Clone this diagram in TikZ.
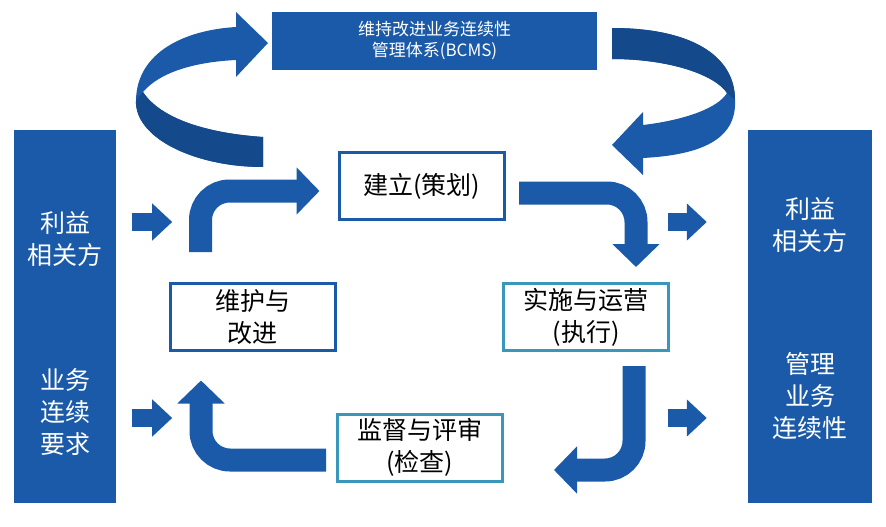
\documentclass[tikz,border=0pt]{standalone}
\usepackage{fontspec}
\setmainfont{Noto Sans CJK SC}
\usetikzlibrary{arrows.meta,positioning,calc}
\definecolor{bcblue}{HTML}{1A5AA8}
\definecolor{bcdark}{HTML}{144A8B}
\definecolor{bcteal}{HTML}{3A96BB}
\newcommand{\stagefont}{\fontsize{25}{32}\selectfont}

\begin{document}
\begin{tikzpicture}[x=1pt,y=-1pt,
  bar/.style={fill=bcblue,minimum width=#1,minimum height=373pt,inner sep=0pt},
  bartext/.style={text=white,align=center,font=\stagefont},
  stagebox/.style={draw=#1,line width=3pt,fill=white,minimum width=165pt,minimum height=67pt,
                   inner sep=0pt,align=center,font=\stagefont},
  bendarrow/.style={draw=bcblue,line width=23pt,rounded corners=29pt,
                    -{Triangle[width=46pt,length=23pt]}},
  smallarrow/.style={draw=bcblue,line width=18pt,-{Triangle[width=36pt,length=20pt]}}]
  \useasboundingbox (0,0) rectangle (886,527);

  % cycle round the management system
  \fill[bcblue] (236,27) .. controls (185,30) and (137,52) .. (136,100)
    .. controls (134,138) and (195,167) .. (263,167) -- (263,137)
    .. controls (205,133) and (160,118) .. (143,92)
    .. controls (160,72) and (195,62) .. (236,60)
    -- (236,77) -- (268,43) -- (236,12) -- cycle;
  \fill[bcdark] (143,92) -- (136,100) .. controls (134,138) and (195,167) .. (263,167)
    -- (263,137) .. controls (205,133) and (160,118) .. (143,92) -- cycle;
  \fill[bcblue] (612,28) .. controls (690,28) and (735,55) .. (735,100)
    .. controls (737,140) and (700,155) .. (643,158)
    -- (643,175) -- (612,145) -- (643,112) -- (643,125)
    .. controls (685,120) and (718,108) .. (727,93)
    .. controls (715,75) and (670,59) .. (612,59) -- cycle;
  \fill[bcdark] (612,28) .. controls (690,28) and (735,55) .. (735,100) -- (727,93)
    .. controls (715,75) and (670,59) .. (612,59) -- cycle;
  \node[fill=bcblue,minimum width=325pt,minimum height=58pt,text=white,align=center,
        font=\fontsize{17}{21}\selectfont] (bcms) at (434.5,41) {维持改进业务连续性\\管理体系(BCMS)};

  % inputs and outputs
  \node[bar=102pt] (lbar) at (65,316.5) {};
  \node[bar=124pt] (rbar) at (810,316.5) {};
  \node[bartext] (lparty) at (lbar |- 0,239) {利益\\相关方};
  \node[bartext] (lneed) at (lbar |- 0,412) {业务\\连续\\要求};
  \node[bartext] (rparty) at (rbar |- 0,225) {利益\\相关方};
  \node[bartext] (rmanage) at (rbar |- 0,396) {管理\\业务\\连续性};
  \foreach \n/\y in {a/222,b/418} {
    \coordinate (lin\n) at ($(lbar.east |- 0,\y)+(16,0)$);
    \coordinate (rout\n) at ($(rbar.west |- 0,\y)+(-80,0)$);
    \draw[smallarrow] (lin\n) -- ++(40,0);
    \draw[smallarrow] (rout\n) -- ++(39,0);
  }

  % PDCA stages
  \node[stagebox=bcblue] (plan) at (421.5,186) {建立(策划)};
  \node[stagebox=bcblue] (maint) at (252.5,317) {维护与\\改进};
  \node[stagebox=bcteal] (exec) at (586,317) {实施与运营\\(执行)};
  \node[stagebox=bcteal] (check) at (419.5,447.5) {监督与评审\\(检查)};
  \draw[bendarrow] ($(maint.north)+(-52,-30)$) |- ($(plan.west)+(-18,5)$);
  \draw[bendarrow] ($(plan.east)+(13.5,7)$) -| ($(exec.north)+(50,-15)$);
  \draw[bendarrow] ($(exec.south)+(48,14)$) |- ($(check.east)+(50.5,22.5)$);
  \draw[bendarrow] ($(check.west)+(-9.5,12.5)$) -| ($(maint.south)+(-51.5,28.5)$);
\end{tikzpicture}
\end{document}
